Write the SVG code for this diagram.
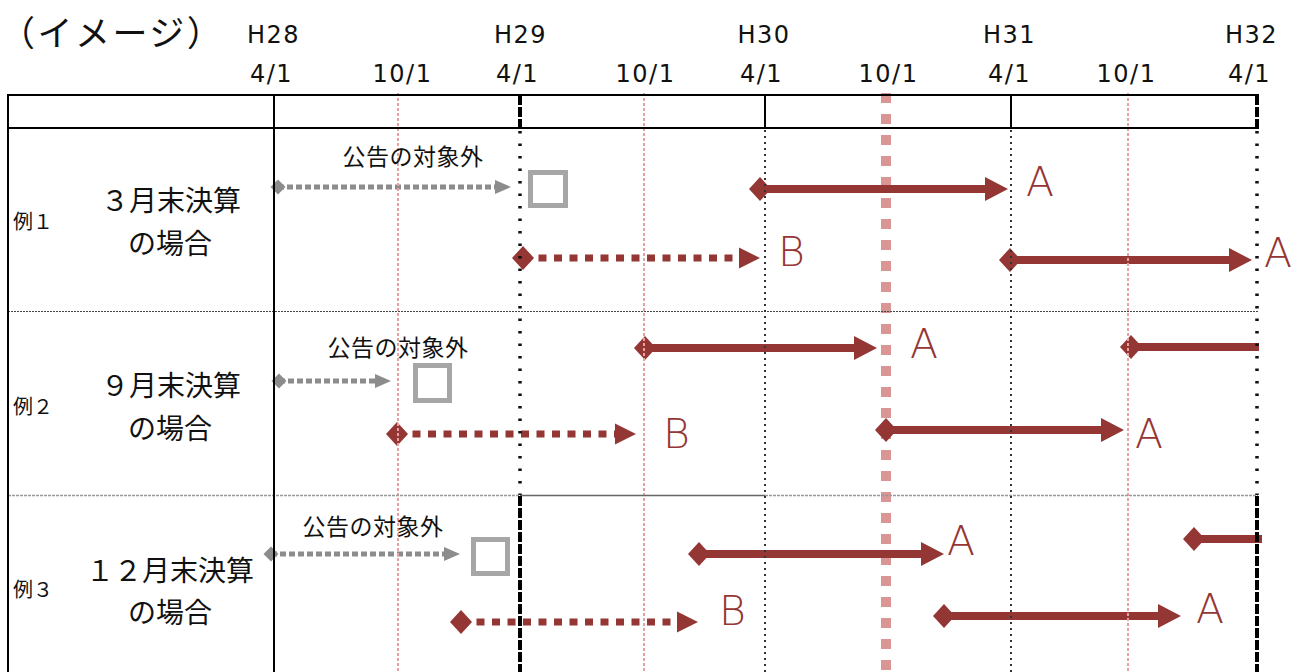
<svg xmlns="http://www.w3.org/2000/svg" width="1303" height="672" viewBox="0 0 1303 672">
<style>
.jp{font-family:"Noto Sans CJK JP","Noto Sans",sans-serif;fill:#111}
.hd{font-family:"DejaVu Sans","Liberation Sans",sans-serif;font-size:24px;letter-spacing:1.5px;fill:#111;text-anchor:middle}
.ab{font-family:"DejaVu Sans","Liberation Sans",sans-serif;font-size:41px;font-weight:300;fill:#943634}
.ttl{font-size:35px;letter-spacing:2.5px}
.rl{font-size:28px;text-anchor:middle}
.ex{font-size:20px}
.note{font-size:23px;letter-spacing:0.5px;text-anchor:middle}
.solid{stroke:#000;stroke-width:2;fill:none}
.thick{stroke:#000;stroke-width:4;stroke-dasharray:10 2;fill:none}
.dots{stroke:#111;stroke-width:3.5;stroke-dasharray:2.5 10;fill:none}
.fine{stroke:#333;stroke-width:2;stroke-dasharray:2 4;fill:none}
.pink{stroke:#e8a0a0;stroke-width:2;stroke-dasharray:3 2;fill:none}
.pinkbig{stroke:#d99694;stroke-width:10;stroke-dasharray:10 11;fill:none}
.ra{stroke:#943634;stroke-width:8;fill:none;marker-start:url(#rdia);marker-end:url(#rarr)}
.rd{stroke:#943634;stroke-width:7;stroke-dasharray:8 7.5;fill:none;marker-start:url(#rdia);marker-end:url(#rarr2)}
.rp{stroke:#943634;stroke-width:8;fill:none;marker-start:url(#rdia)}
.ga{stroke:#8c8c8c;stroke-width:5;stroke-dasharray:6 3;fill:none;marker-start:url(#gdia);marker-end:url(#garr)}
.box{stroke:#a6a6a6;stroke-width:5;fill:#fff}
</style>
<defs>
<marker id="rdia" markerUnits="userSpaceOnUse" markerWidth="24" markerHeight="26" viewBox="0 0 24 26" refX="12" refY="13" orient="auto"><path d="M1,13 L12,1 L23,13 L12,25 Z" fill="#943634"/></marker>
<marker id="rarr" markerUnits="userSpaceOnUse" markerWidth="24" markerHeight="26" viewBox="0 0 24 26" refX="1" refY="13" orient="auto"><path d="M0,1 L23,13 L0,25 Z" fill="#943634"/></marker>
<marker id="rarr2" markerUnits="userSpaceOnUse" markerWidth="22" markerHeight="24" viewBox="0 0 22 24" refX="1" refY="12" orient="auto"><path d="M0,1.5 L21,12 L0,22.5 Z" fill="#943634"/></marker>
<marker id="gdia" markerUnits="userSpaceOnUse" markerWidth="16" markerHeight="16" viewBox="0 0 16 16" refX="8" refY="8" orient="auto"><path d="M0.5,8 L8,0.5 L15.5,8 L8,15.5 Z" fill="#8c8c8c"/></marker>
<marker id="garr" markerUnits="userSpaceOnUse" markerWidth="17" markerHeight="16" viewBox="0 0 17 16" refX="1" refY="8" orient="auto"><path d="M0,1 L16,8 L0,15 Z" fill="#8c8c8c"/></marker>
</defs>
<rect width="1303" height="672" fill="#fff"/>

<g id="grid-back">
<line class="pinkbig" x1="886" y1="93" x2="886" y2="672"/>
</g>

<g id="boxes">
<rect id="box1" class="box" x="530.5" y="172.5" width="35" height="33"/>
<rect id="box2" class="box" x="415.5" y="365.5" width="34" height="35"/>
<rect id="box3" class="box" x="473.5" y="539.5" width="34" height="34"/>
</g>

<g id="connectors">
<line class="ga" x1="278" y1="187" x2="496" y2="187"/>
<line class="ga" x1="279" y1="381" x2="376" y2="381"/>
<line class="ga" x1="271" y1="554" x2="445" y2="554"/>
<line class="ra" x1="760" y1="189" x2="986" y2="189"/>
<line class="rd" x1="523" y1="258" x2="740" y2="258"/>
<line class="ra" x1="1010" y1="260" x2="1230" y2="260"/>
<line class="ra" x1="645" y1="348" x2="855" y2="348"/>
<line class="rp" x1="1131" y1="347" x2="1259" y2="347"/>
<line class="rd" x1="397" y1="434" x2="616" y2="434"/>
<line class="ra" x1="886" y1="430" x2="1102" y2="430"/>
<line class="ra" x1="699" y1="554" x2="922" y2="554"/>
<line class="rp" x1="1194" y1="539" x2="1262" y2="539"/>
<line class="rd" x1="461" y1="622" x2="678" y2="622"/>
<line class="ra" x1="944" y1="616" x2="1159" y2="616"/>
</g>

<g id="grid">
<line class="pink" x1="398" y1="93" x2="398" y2="672"/>
<line class="pink" x1="644" y1="93" x2="644" y2="672"/>
<line class="pink" x1="1128" y1="93" x2="1128" y2="672"/>
<line stroke="#444" stroke-width="1" stroke-dasharray="2 1" x1="8" y1="311.5" x2="1258" y2="311.5"/>
<line stroke="#999" stroke-width="1.5" stroke-dasharray="3 1" x1="8" y1="495.5" x2="520" y2="495.5"/>
<line stroke="#666" stroke-width="1.5" x1="520" y1="495.5" x2="765" y2="495.5"/>
<line stroke="#999" stroke-width="1.5" stroke-dasharray="3 1" x1="765" y1="495.5" x2="1258" y2="495.5"/>
<line class="solid" x1="8" y1="94" x2="8" y2="672" stroke-width="2.5"/>
<line class="solid" x1="274" y1="94" x2="274" y2="672"/>
<line class="thick" x1="520" y1="95" x2="520" y2="128"/>
<line class="dots" x1="520" y1="131" x2="520" y2="495"/>
<line class="thick" x1="520" y1="496" x2="520" y2="672"/>
<line class="solid" x1="765" y1="95" x2="765" y2="128"/>
<line class="fine" x1="765" y1="130" x2="765" y2="672"/>
<line class="solid" x1="1011" y1="95" x2="1011" y2="128"/>
<line class="fine" x1="1011" y1="130" x2="1011" y2="672"/>
<line class="thick" x1="1257" y1="95" x2="1257" y2="128"/>
<line class="dots" x1="1257" y1="131" x2="1257" y2="495"/>
<line class="thick" x1="1257" y1="496" x2="1257" y2="672"/>
<line class="solid" x1="7" y1="95" x2="1259" y2="95" stroke-width="2.5"/>
<line class="solid" x1="7" y1="128" x2="1259" y2="128" stroke-width="2.5"/>
</g>

<g id="title"><text class="jp ttl" x="0" y="46">（イメージ）</text></g>

<g id="axis">
<text class="hd" x="273.5" y="43">H28</text>
<text class="hd" x="520.5" y="43">H29</text>
<text class="hd" x="764" y="43">H30</text>
<text class="hd" x="1009.5" y="43">H31</text>
<text class="hd" x="1251.5" y="43">H32</text>
<text class="hd" x="271.5" y="82">4/1</text>
<text class="hd" x="402.5" y="82">10/1</text>
<text class="hd" x="517.5" y="82">4/1</text>
<text class="hd" x="645.5" y="82">10/1</text>
<text class="hd" x="761.5" y="82">4/1</text>
<text class="hd" x="888.5" y="82">10/1</text>
<text class="hd" x="1009.5" y="82">4/1</text>
<text class="hd" x="1126.5" y="82">10/1</text>
<text class="hd" x="1249.5" y="82">4/1</text>
</g>

<g id="row1">
<text class="jp ex" x="13" y="229">例１</text>
<text class="jp rl" x="171" y="211">３月末決算</text>
<text class="jp rl" x="170" y="254">の場合</text>
<text class="jp note" x="413" y="165">公告の対象外</text>
<text class="ab" x="1026" y="196">A</text>
<text class="ab" x="778" y="266">B</text>
<text class="ab" x="1264" y="267">A</text>
</g>

<g id="row2">
<text class="jp ex" x="13" y="414">例２</text>
<text class="jp rl" x="171" y="396">９月末決算</text>
<text class="jp rl" x="170" y="439">の場合</text>
<text class="jp note" x="398" y="356">公告の対象外</text>
<text class="ab" x="910" y="358">A</text>
<text class="ab" x="663" y="448">B</text>
<text class="ab" x="1135" y="448">A</text>
</g>

<g id="row3">
<text class="jp ex" x="13" y="597">例３</text>
<text class="jp rl" x="170" y="581">１２月末決算</text>
<text class="jp rl" x="170" y="623">の場合</text>
<text class="jp note" x="373" y="535">公告の対象外</text>
<text class="ab" x="947" y="555">A</text>
<text class="ab" x="719" y="625">B</text>
<text class="ab" x="1196" y="623">A</text>
</g>
</svg>
